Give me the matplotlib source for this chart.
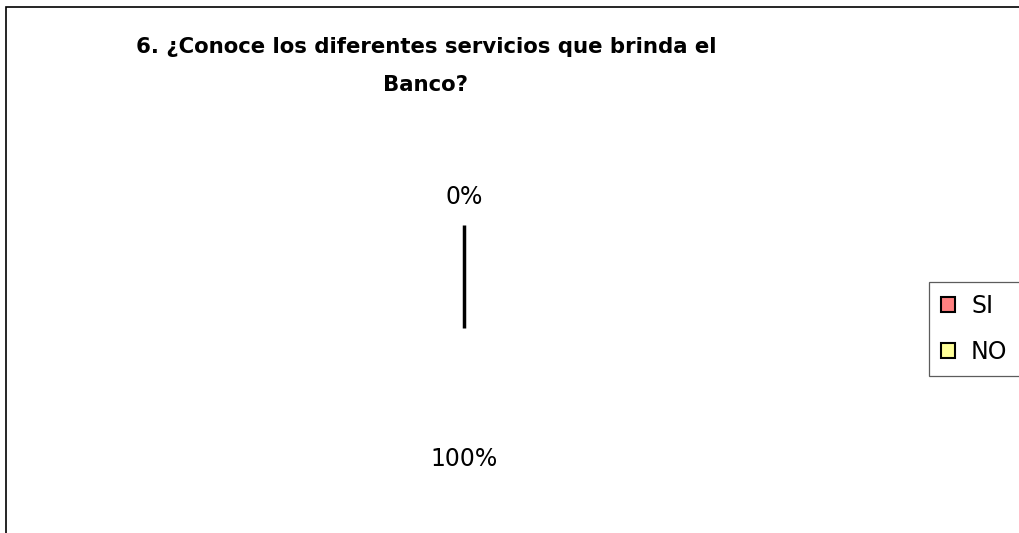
import matplotlib
matplotlib.use('Agg')
import matplotlib.pyplot as plt
from matplotlib.patches import Rectangle
import numpy as np

plt.rcParams['font.family'] = ['DejaVu Sans']

# respuestas de la encuesta, pregunta 6
labels = ['SI', 'NO']
values = [100, 0]
colors = ['#FF8080', '#FFFF99']
title = '6. ¿Conoce los diferentes servicios que brinda el\nBanco?'

W, H = 1020, 533
fig = plt.figure(figsize=(W / 100, H / 100), dpi=100)
fig.patch.set_facecolor('white')

# marco del grafico (se corta por la derecha y abajo)
fig.patches.append(Rectangle((6 / W, -0.1), 1.2, 1 - 7 / H + 0.1,
                             transform=fig.transFigure, fill=False,
                             edgecolor='black', linewidth=1.2))

# va='baseline' alinea la ultima linea del titulo
fig.text(426 / W, 1 - 91 / H, title, ha='center', va='baseline',
         fontsize=15.3, fontweight='bold', linespacing=2.15)

# pie centrado en (464, 328) con radio 103 px
cx, cy, r = 464, 328, 103
ax = fig.add_axes([(cx - r) / W, (H - cy - r) / H, 2 * r / W, 2 * r / H])
wedges, texts, autotexts = ax.pie(
    values, colors=colors, startangle=90, counterclock=False,
    autopct='%1.0f%%', pctdistance=1.27, labeldistance=None,
    wedgeprops=dict(linewidth=0, alpha=0), textprops=dict(fontsize=17))
ax.set_xlim(-1, 1)
ax.set_ylim(-1, 1)
ax.set_aspect('equal')
for t in autotexts:
    t.set_clip_on(False)

# el relleno no se ve; solo queda el borde radial del sector
w = wedges[0]
ang = np.deg2rad(w.theta2)
x0, y0 = w.center
ax.plot([x0, x0 + w.r * np.cos(ang)], [y0, y0 + w.r * np.sin(ang)],
        color='black', linewidth=2.5, solid_capstyle='butt', clip_on=False)

# leyenda pegada al borde derecho (el marco se sale de la figura)
leg = fig.legend(wedges, labels, loc='upper left', mode='expand',
                 bbox_to_anchor=(929 / W, 1 - 282 / H, 120 / W, 0),
                 fontsize=17, frameon=True, fancybox=False,
                 handlelength=0.6, handleheight=0.6, handletextpad=0.68,
                 borderpad=0.5, labelspacing=0.95, borderaxespad=0)
leg.get_frame().set_edgecolor('#333333')
leg.get_frame().set_linewidth(0.9)
for h, c in zip(leg.legend_handles, colors):
    h.set_alpha(1)
    h.set_facecolor(c)
    h.set_edgecolor('black')
    h.set_linewidth(1.5)

fig.savefig('out.png', dpi=100)
